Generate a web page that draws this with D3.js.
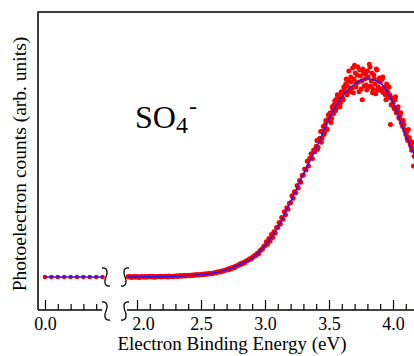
<!DOCTYPE html>
<html>
<head>
<meta charset="utf-8">
<script src="https://cdn.jsdelivr.net/npm/d3@7"></script>
<style>
  body { margin: 0; background: #fff; }
  svg { display: block; font-family: "Liberation Serif", "DejaVu Serif", serif; }
</style>
</head>
<body>
<div id="chart"></div>
<script>
var width = 414, height = 356;

// left segment (0.0 - 0.45 eV), sparse points on the baseline
var leftEnergy = [0.00, 0.05, 0.10, 0.15, 0.20, 0.25, 0.30, 0.35, 0.40, 0.45];
var leftCounts = [0, 0, 0, 0, 0, 0, 0, 0, 0, 0];

// right segment, scan 1: one point every 0.01 eV starting at 1.93 eV
var rightStart = 1.93, rightStep = 0.01;
var rightCounts = [
  0.003, 0.000, 0.002, -0.002, 0.001, 0.003, -0.001,
  0.002, 0.000, -0.002, 0.003, 0.001, 0.000, 0.002, -0.001, 0.003, 0.001,
  0.001, 0.004, 0.000, 0.002, -0.001, 0.003, 0.001, 0.002, 0.004, 0.000,
  0.003, 0.001, 0.004, 0.002, 0.000, 0.005, 0.002, 0.003, 0.001, 0.004,
  0.004, 0.006, 0.003, 0.005, 0.007, 0.004, 0.006, 0.008, 0.005, 0.007,
  0.007, 0.009, 0.006, 0.010, 0.008, 0.011, 0.009, 0.012, 0.010, 0.011,
  0.013, 0.011, 0.015, 0.013, 0.016, 0.014, 0.018, 0.016, 0.019, 0.018,
  0.020, 0.023, 0.021, 0.025, 0.027, 0.025, 0.030, 0.029, 0.033, 0.034,
  0.036, 0.040, 0.038, 0.045, 0.043, 0.049, 0.047, 0.054, 0.055, 0.060,
  0.060, 0.068, 0.066, 0.073, 0.071, 0.080, 0.082, 0.086, 0.092, 0.090,
  0.098, 0.102, 0.110, 0.108, 0.120, 0.118, 0.132, 0.138, 0.142, 0.155,
  0.158, 0.178, 0.165, 0.195, 0.182, 0.215, 0.200, 0.228, 0.222, 0.250,
  0.250, 0.275, 0.268, 0.300, 0.292, 0.330, 0.315, 0.350, 0.342, 0.372,
  0.375, 0.410, 0.398, 0.430, 0.425, 0.462, 0.450, 0.488, 0.478, 0.512,
  0.515, 0.545, 0.540, 0.585, 0.560, 0.600, 0.622, 0.598, 0.642, 0.632,
  0.660, 0.645, 0.690, 0.700, 0.680, 0.735, 0.720, 0.770, 0.750, 0.795,
  0.790, 0.830, 0.800, 0.850, 0.870, 0.840, 0.900, 0.865, 0.910, 0.880,
  0.930, 0.895, 0.950, 0.975, 0.920, 0.990, 0.940, 1.010, 0.955, 0.930,
  1.070, 0.960, 1.020, 0.985, 1.045, 0.950, 0.895, 1.030, 1.000, 0.970,
  1.040, 0.960, 1.060, 0.990, 0.930, 1.020, 0.975, 1.050, 0.945, 0.990,
  0.985, 0.940, 1.010, 0.955, 0.920, 0.975, 0.930, 0.960, 0.770, 0.905,
  0.880, 0.850, 0.910, 0.835, 0.860, 0.800, 0.830, 0.775, 0.790, 0.745,
  0.720, 0.700, 0.745, 0.690, 0.660, 0.650, 0.560, 0.640, 0.600
];

// scan 2 over the band: one point every 0.01 eV starting at 3.405 eV
var scan2Start = 3.405;
var scan2Counts = [
  0.690, 0.655, 0.700, 0.735, 0.700, 0.760, 0.730, 0.790, 0.745, 0.820,
  0.815, 0.780, 0.860, 0.825, 0.890, 0.850, 0.920, 0.880, 0.860, 0.935,
  0.905, 0.960, 0.930, 1.000, 0.965, 1.040, 0.935, 0.985, 1.055, 1.000,
  1.030, 0.980, 1.060, 0.935, 1.015, 0.990, 1.050, 0.965, 1.025, 0.945,
  1.010, 1.075, 0.965, 1.030, 0.950, 1.000, 0.925, 1.045, 0.960, 1.005,
  0.950, 1.000, 0.930, 0.960, 0.895, 0.940, 0.905, 0.920, 0.870, 0.900,
  0.860, 0.895, 0.830, 0.845, 0.805, 0.815, 0.780, 0.760, 0.770, 0.735,
  0.730, 0.690, 0.705, 0.670, 0.640, 0.680, 0.610, 0.625
];

// fitted curve (blue)
var fitEnergy = [1.93, 2.1, 2.3, 2.4, 2.5, 2.6, 2.7, 2.8, 2.9, 3.0, 3.1, 3.2, 3.3, 3.4, 3.5, 3.6, 3.7, 3.8, 3.9, 4.0, 4.1, 4.2];
var fitCounts = [0.000, 0.001, 0.004, 0.007, 0.012, 0.020, 0.037, 0.062, 0.095, 0.160, 0.250, 0.380, 0.520, 0.650, 0.800, 0.910, 0.975, 1.000, 0.980, 0.880, 0.715, 0.570];

var leftTicks = [0.0, 0.1, 0.2, 0.3, 0.4];
var rightMajor = [2.0, 2.5, 3.0, 3.5, 4.0];
var rightMinor = [2.1, 2.2, 2.3, 2.4, 2.6, 2.7, 2.8, 2.9, 3.1, 3.2, 3.3, 3.4, 3.6, 3.7, 3.8, 3.9, 4.1];

var frameLeft = 38, frameTop = 12, axisY = 310;

var svg = d3.select("#chart")
    .append("svg")
    .attr("width", width)
    .attr("height", height);

var xL = d3.scaleLinear().domain([0, 0.4]).range([45, 96.2]);
var xR = d3.scaleLinear().domain([2.0, 4.0]).range([137, 393]);
var y = d3.scaleLinear().domain([0, 1]).range([277, 79]);

var fmt = d3.format(".1f");

// frame
svg.append("path")
    .attr("d", "M" + frameLeft + "," + axisY + "V" + frameTop + "H" + (width + 5))
    .attr("fill", "none").attr("stroke", "#000").attr("stroke-width", 1.5);

// bottom axis lines, broken
svg.append("line").attr("x1", frameLeft).attr("x2", 102).attr("y1", axisY).attr("y2", axisY)
    .attr("stroke", "#000").attr("stroke-width", 1.5);
svg.append("line").attr("x1", 127).attr("x2", width + 5).attr("y1", axisY).attr("y2", axisY)
    .attr("stroke", "#000").attr("stroke-width", 1.5);

function styleAxis(g) {
  g.select(".domain").remove();
  g.selectAll(".tick line").attr("stroke", "#000").attr("stroke-width", 1.2);
  g.selectAll(".tick text").attr("fill", "#000")
      .style("font-family", "Liberation Serif, serif").style("font-size", "18px");
}

svg.append("g").attr("transform", "translate(0," + axisY + ")")
    .call(d3.axisBottom(xL).tickValues(leftTicks.slice(1)).tickSize(-6).tickFormat(""))
    .call(styleAxis);
svg.append("g").attr("transform", "translate(0," + axisY + ")")
    .call(d3.axisBottom(xL).tickValues([leftTicks[0]]).tickSizeInner(-10).tickPadding(7).tickFormat(fmt))
    .call(styleAxis);
svg.append("g").attr("transform", "translate(0," + axisY + ")")
    .call(d3.axisBottom(xR).tickValues(rightMinor).tickSize(-6).tickFormat(""))
    .call(styleAxis);
var major = svg.append("g").attr("transform", "translate(0," + axisY + ")")
    .call(d3.axisBottom(xR).tickValues(rightMajor).tickSizeInner(-10).tickPadding(7).tickFormat(fmt))
    .call(styleAxis);
// the 2.0 label sits a little to the right of its tick
major.selectAll(".tick text").filter(function(d) { return d === 2.0; }).attr("dx", 6);

// break marks
function breakMark(cx, cy, flip) {
  var s = flip ? -1 : 1;
  return "M" + (cx + 4 * s) + "," + (cy - 9) +
    " C" + (cx - 3 * s) + "," + (cy - 10) + " " + (cx - 1 * s) + "," + (cy - 2) + " " + cx + "," + cy +
    " C" + (cx + 1 * s) + "," + (cy + 2) + " " + (cx + 3 * s) + "," + (cy + 10) + " " + (cx - 4 * s) + "," + (cy + 9);
}
[[106, y(0), true], [125, y(0), false], [106, axisY + 1, true], [125, axisY + 1, false]].forEach(function(b) {
  svg.append("path")
      .attr("d", breakMark(b[0], b[1], b[2]))
      .attr("fill", "none").attr("stroke", "#000").attr("stroke-width", 1.3);
});

// data
var rightData = rightCounts.map(function(v, i) { return { e: rightStart + i * rightStep, v: v }; })
    .concat(scan2Counts.map(function(v, i) { return { e: scan2Start + i * rightStep, v: v }; }));
var leftData = leftEnergy.map(function(e, i) { return { e: e, v: leftCounts[i] }; });

var plot = svg.append("g");

plot.selectAll(".dotR")
    .data(rightData)
  .enter().append("circle")
    .attr("class", "dotR")
    .attr("cx", function(d) { return xR(d.e); })
    .attr("cy", function(d) { return y(d.v); })
    .attr("r", 2.5)
    .attr("fill", "#ff0000");

plot.selectAll(".dotL")
    .data(leftData)
  .enter().append("circle")
    .attr("class", "dotL")
    .attr("cx", function(d) { return xL(d.e); })
    .attr("cy", function(d) { return y(d.v); })
    .attr("r", 2.3)
    .attr("fill", "#ff0000");

var fitData = fitEnergy.map(function(e, i) { return { e: e, v: fitCounts[i] }; });
plot.append("path")
    .datum(fitData)
    .attr("fill", "none")
    .attr("stroke", "#1a1aff")
    .attr("stroke-width", 1.4)
    .attr("d", d3.line()
        .x(function(d) { return xR(d.e); })
        .y(function(d) { return y(d.v); })
        .curve(d3.curveMonotoneX));

plot.append("path")
    .datum(leftData)
    .attr("fill", "none")
    .attr("stroke", "#1a1aff")
    .attr("stroke-width", 1.4)
    .attr("d", d3.line()
        .x(function(d) { return xL(d.e); })
        .y(function(d) { return y(d.v); }));

// species label
var lab = svg.append("text")
    .attr("x", 135).attr("y", 128)
    .attr("fill", "#000")
    .style("font-size", "32px");
lab.append("tspan").text("SO");
lab.append("tspan").text("4").style("font-size", "24px").attr("dy", 5);
lab.append("tspan").text("-").style("font-size", "24px").attr("dx", 1).attr("dy", -19);

// axis titles
svg.append("text")
    .attr("x", 232).attr("y", 350)
    .attr("text-anchor", "middle")
    .style("font-size", "19px")
    .text("Electron Binding Energy (eV)");

svg.append("text")
    .attr("transform", "translate(26,164) rotate(-90)")
    .attr("text-anchor", "middle")
    .style("font-size", "19.5px")
    .text("Photoelectron counts (arb. units)");
</script>
</body>
</html>
